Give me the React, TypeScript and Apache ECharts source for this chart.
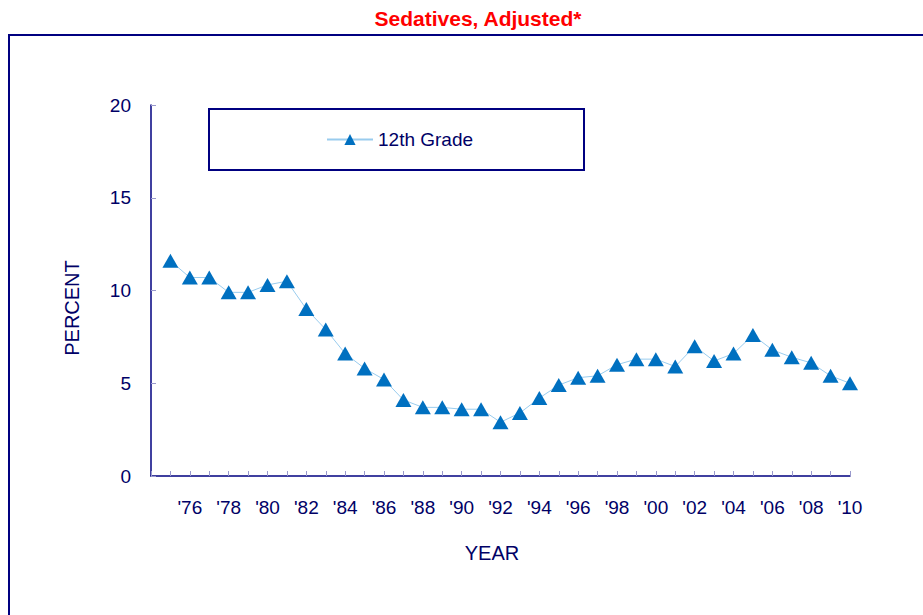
import React, { useEffect, useRef } from "react";
import * as echarts from "echarts";

const years: number[] = [];
for (let y = 1974; y <= 2010; y++) years.push(y);
const categories = years.map((y) => "'" + String(y % 100).padStart(2, "0"));

// 1974 has no value (axis starts there)
const grade12: (number | null)[] = [
  null,
  11.6, 10.7, 10.7, 9.9, 9.9, 10.3, 10.5, 9.0, 7.9, 6.6,
  5.8, 5.2, 4.1, 3.7, 3.7, 3.6, 3.6, 2.9, 3.4, 4.2,
  4.9, 5.3, 5.4, 6.0, 6.3, 6.3, 5.9, 7.0, 6.2, 6.6,
  7.6, 6.8, 6.4, 6.1, 5.4, 5.0,
];

const FONT = "'Liberation Sans', Arial, sans-serif";
const NAVY = "#000080";
const TEXT = "#000066";

export default function App() {
  const ref = useRef<HTMLDivElement>(null);
  useEffect(() => {
    if (!ref.current) return;
    const chart = echarts.init(ref.current, null, { renderer: "svg" });
    chart.setOption({
      animation: false,
      backgroundColor: "#ffffff",
      grid: { left: 151, right: 73, top: 105, bottom: 139 },
      legend: {
        left: 326,
        top: 130,
        padding: 0,
        itemWidth: 46,
        itemHeight: 14,
        textStyle: { color: TEXT, fontSize: 19, fontFamily: FONT },
        data: ["12th Grade"],
      },
      xAxis: {
        type: "category",
        data: categories,
        boundaryGap: false,
        axisLine: { lineStyle: { color: NAVY, width: 1.5 } },
        axisTick: { inside: true, length: 5, interval: 0, lineStyle: { color: "#9999cc" } },
        axisLabel: {
          interval: (i: number) => i > 0 && i % 2 === 0,
          color: TEXT,
          fontSize: 19,
          fontFamily: FONT,
          margin: 22,
        },
        splitLine: { show: false },
      },
      yAxis: {
        type: "value",
        min: 0,
        max: 20,
        interval: 5,
        axisLine: { show: true, lineStyle: { color: NAVY, width: 1.5 } },
        axisTick: { show: true, inside: true, length: 5, lineStyle: { color: "#9999cc" } },
        axisLabel: { color: TEXT, fontSize: 19, fontFamily: FONT, margin: 20 },
        splitLine: { show: false },
      },
      series: [
        {
          name: "12th Grade",
          type: "line",
          data: grade12,
          connectNulls: false,
          showAllSymbol: true,
          symbol: "triangle",
          symbolSize: [16, 14],
          itemStyle: { color: "#0070c0" },
          lineStyle: { color: "#99ccee", width: 1 },
        },
      ],
      graphic: [
        {
          type: "rect",
          shape: { x: 9, y: 35, width: 1000, height: 700 },
          style: { fill: "none", stroke: NAVY, lineWidth: 2 },
          silent: true,
        },
        {
          type: "rect",
          shape: { x: 209, y: 109, width: 375, height: 61 },
          style: { fill: "none", stroke: NAVY, lineWidth: 2 },
          silent: true,
        },
        {
          type: "text",
          x: 478,
          y: 18,
          style: {
            text: "Sedatives, Adjusted*",
            fill: "#ff0000",
            font: `bold 21px ${FONT}`,
            textAlign: "center",
            textVerticalAlign: "middle",
          },
        },
        {
          type: "text",
          x: 72,
          y: 308,
          rotation: Math.PI / 2,
          style: {
            text: "PERCENT",
            fill: TEXT,
            font: `20px ${FONT}`,
            textAlign: "center",
            textVerticalAlign: "middle",
          },
        },
        {
          type: "text",
          x: 492,
          y: 553,
          style: {
            text: "YEAR",
            fill: TEXT,
            font: `20px ${FONT}`,
            textAlign: "center",
            textVerticalAlign: "middle",
          },
        },
      ],
    });
    return () => chart.dispose();
  }, []);
  return (
    <div
      ref={ref}
      style={{ position: "fixed", left: 0, top: 0, width: 923, height: 615 }}
    />
  );
}
